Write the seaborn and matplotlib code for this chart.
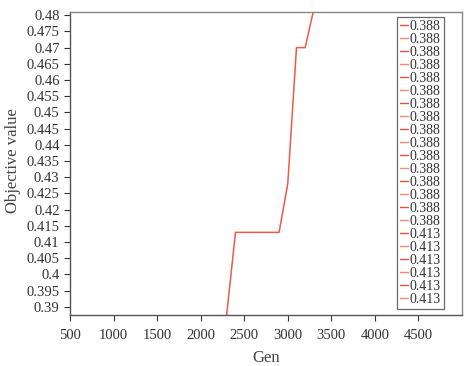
import matplotlib
matplotlib.use("Agg")
import matplotlib.pyplot as plt
from matplotlib.lines import Line2D
import seaborn as sns
import pandas as pd

gens = [2200, 2300, 2400, 2500, 2600, 2700, 2800, 2900, 3000, 3100, 3200, 3300, 3400]
objective = [0.363, 0.388, 0.413, 0.413, 0.413, 0.413, 0.413, 0.413, 0.428, 0.470, 0.470, 0.482, 0.494]
legend_labels = ["0.388"] * 16 + ["0.413"] * 6
legend_colors = ["#E8503F", "#F08878"] * 11

xticks = [500, 1000, 1500, 2000, 2500, 3000, 3500, 4000, 4500]
yticks = [0.39, 0.395, 0.4, 0.405, 0.41, 0.415, 0.42, 0.425, 0.43, 0.435,
          0.44, 0.445, 0.45, 0.455, 0.46, 0.465, 0.47, 0.475, 0.48]

sns.set_style("ticks")
plt.rcParams["font.family"] = ["Liberation Serif", "DejaVu Serif"]

df = pd.DataFrame({"Gen": gens, "Objective value": objective})

fig = plt.figure(figsize=(4.65, 3.66), dpi=100)
ax = fig.add_axes([70 / 465, 1 - 315 / 366, (462 - 70) / 465, (315 - 12) / 366])

sns.lineplot(data=df, x="Gen", y="Objective value", ax=ax, color="#EC5A48", lw=1.1)

ax.set_xlim(500, 5000)
ax.set_ylim(0.3875, 0.481)
ax.set_xticks(xticks)
ax.set_xticklabels([str(t) for t in xticks])
ax.set_yticks(yticks)
ax.set_yticklabels([f"{t:g}" for t in yticks])
ax.tick_params(labelsize=10.5, colors="#333333", length=4, width=0.8, direction="out")
ax.tick_params(axis="x", pad=6)
ax.set_xlabel("Gen", fontsize=12, color="#444444", labelpad=6)
ax.set_ylabel("Objective value", fontsize=12, color="#444444")
ax.yaxis.set_label_coords(-0.126, 0.51)
for s in ax.spines.values():
    s.set_color("#555555")
    s.set_linewidth(1.0)
for s in ["top", "right"]:
    ax.spines[s].set_color("#888888")

handles = [Line2D([], [], color=c, lw=1.0) for c in legend_colors]
leg = ax.legend(handles, legend_labels, loc="upper right", bbox_to_anchor=(0.955, 0.985),
                fontsize=10, handlelength=0.55, handletextpad=0.15, labelspacing=0.0,
                borderpad=0.25, borderaxespad=0, frameon=True, fancybox=False)
leg.get_frame().set_edgecolor("#444444")
leg.get_frame().set_linewidth(0.9)
for t in leg.get_texts():
    t.set_color("#333333")

fig.savefig("out.png", dpi=100)
